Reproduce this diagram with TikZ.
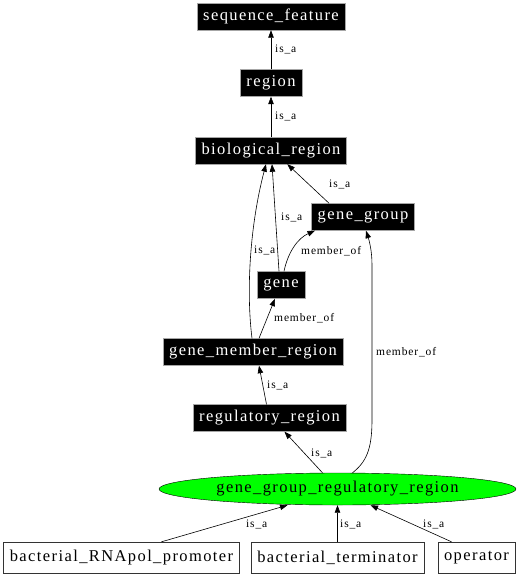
\documentclass[tikz,border=0pt]{standalone}
\usepackage{fontspec}
\usetikzlibrary{shapes.geometric,arrows.meta}
\newfontfamily\boxfont{Liberation Serif}[LetterSpace=8.5]
\newfontfamily\edgefont{Liberation Serif}[LetterSpace=7.5]
\definecolor{termgreen}{RGB}{0,255,0}
\tikzset{
  term/.style={draw=gray!70, fill=black, text=white, inner xsep=6.2pt, inner ysep=0pt,
    minimum height=27pt, font={\boxfont\fontsize{16.5}{19}\selectfont}},
  leaf/.style={draw=black!80, fill=white, inner xsep=6.2pt, inner ysep=0pt,
    minimum height=31pt, font={\boxfont\fontsize{16.5}{19}\selectfont}},
  focus/.style={ellipse, draw=black, fill=termgreen, inner sep=0pt, minimum width=357pt,
    minimum height=32pt, font={\boxfont\fontsize{16.5}{19}\selectfont}},
  lbl/.style={anchor=west, inner sep=0pt, font={\edgefont\fontsize{11.5}{13}\selectfont}},
  rel/.style={line width=0.6pt, -{Triangle[length=7.5pt, width=5.5pt]}}
}
\begin{document}
\begin{tikzpicture}[x=1pt, y=-1pt]
  \useasboundingbox (0,0) rectangle (523,576);

  % terms
  \node[term] (seqfeat) at (271,16.5) {sequence\_feature};
  \node[term] (region) at (271,83) {region};
  \node[term] (bioreg) at (271,150.5) {biological\_region};
  \node[term] (genegroup) at (363,217) {gene\_group};
  \node[term] (gene) at (281,285) {gene};
  \node[term] (gmr) at (253,352) {gene\_member\_region};
  \node[term] (regreg) at (269.5,418) {regulatory\_region};
  \node[focus] (gggr) at (337.5,489) {gene\_group\_regulatory\_region};
  \node[leaf] (promoter) at (121.5,557.5) {bacterial\_RNApol\_promoter};
  \node[leaf] (terminator) at (337.5,557.5) {bacterial\_terminator};
  \node[leaf] (operator) at (476.5,557.5) {operator};

  % is_a / member_of links
  \draw[rel] (region.north) -- (seqfeat.south);
  \draw[rel] (bioreg.north) -- (region.south);
  \draw[rel] (genegroup.158) -- (bioreg.-40);
  \draw[rel] ([xshift=-2pt]gene.north) -- ([xshift=1pt]bioreg.south);
  \draw[rel] ([xshift=-1pt]gmr.north) .. controls (246,290) and (250,225) .. ([xshift=-5pt]bioreg.south);
  \draw[rel] ([xshift=3pt]gene.north) .. controls (288,252) and (298,238) .. ([xshift=-48pt]genegroup.south);
  \draw[rel] ([xshift=6pt]gmr.north) -- ([xshift=-6pt]gene.south);
  \draw[rel] ([xshift=-3pt]regreg.north) -- ([xshift=6pt]gmr.south);
  \draw[rel] ([xshift=-15pt]gggr.north) -- ([xshift=15pt]regreg.south);
  \draw[rel] ([xshift=15pt]gggr.north) .. controls (366,462) and (372,450) .. (372,420)
    -- (372,265) .. controls (372,250) and (369,240) .. ([xshift=3pt]genegroup.south);
  \draw[rel] ([xshift=40pt]promoter.north) -- ([xshift=-50pt]gggr.south);
  \draw[rel] (terminator.north) -- (gggr.south);
  \draw[rel] ([xshift=-25pt]operator.north) -- ([xshift=33pt]gggr.south);

  % link labels
  \node[lbl] (l1) at (275,49) {is\_a};
  \node[lbl] (l2) at (275,116.5) {is\_a};
  \node[lbl] (l3) at (329,184) {is\_a};
  \node[lbl] (l4) at (281,217.5) {is\_a};
  \node[lbl] (l5) at (254,250.5) {is\_a};
  \node[lbl] (l6) at (301,251) {member\_of};
  \node[lbl] (l7) at (274,318) {member\_of};
  \node[lbl] (l8) at (267,385) {is\_a};
  \node[lbl] (l9) at (311,453) {is\_a};
  \node[lbl] (l10) at (376,352) {member\_of};
  \node[lbl] (l11) at (246,524.5) {is\_a};
  \node[lbl] (l12) at (340,524.5) {is\_a};
  \node[lbl] (l13) at (423,524.5) {is\_a};
\end{tikzpicture}
\end{document}
